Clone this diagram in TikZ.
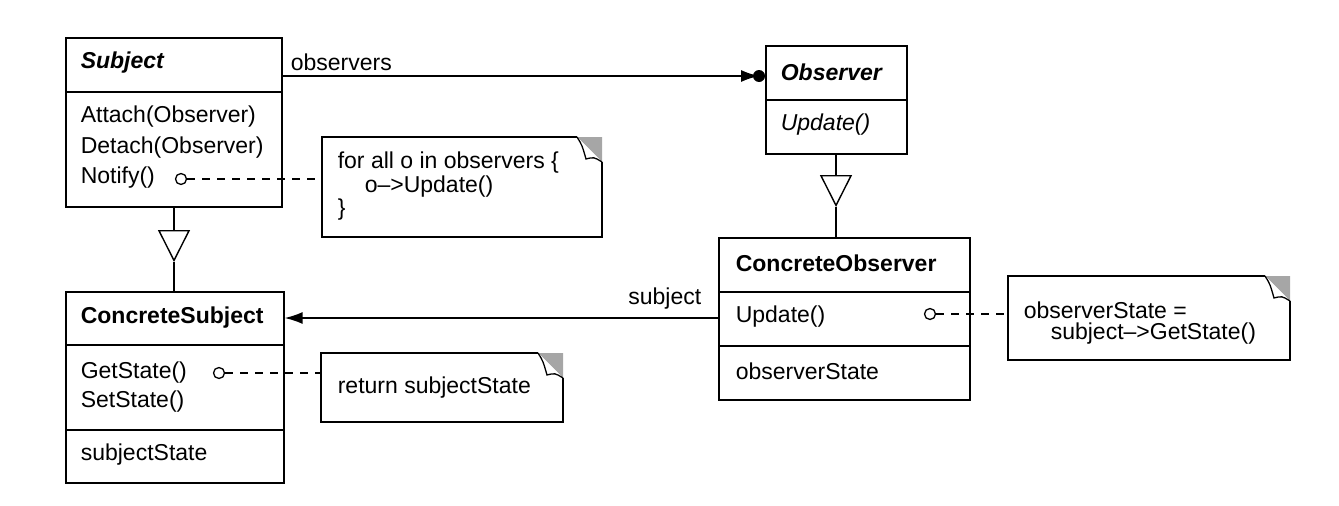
\documentclass[tikz,border=0pt]{standalone}
\usepackage{fontspec}
\setmainfont{Liberation Sans}
\usetikzlibrary{arrows.meta}
\begin{document}
\begin{tikzpicture}[x=1pt,y=-1pt,line width=1.6pt,
  txt/.style={anchor=west,inner sep=0pt,font=\fontsize{23}{27}\selectfont},
  ttl/.style={txt,font=\fontsize{23}{27}\selectfont\bfseries},
  box/.style={draw,anchor=north west,inner sep=0pt,minimum width=#1},
  dsh/.style={dashed,dash pattern=on 8pt off 7pt,line width=1.4pt},
  gen/.style={-{Triangle[open,length=32pt,width=32pt,line width=1.4pt]}},
  note/.style={draw,inner sep=0pt,anchor=north west}]
\useasboundingbox (0,0) rectangle (1339,506);
% Subject
\node[box=216,minimum height=54] (sh) at (65,37) {};
\node[box=216,minimum height=115] (sb) at (65,91) {};
\node[ttl,font=\fontsize{23}{27}\selectfont\bfseries\itshape] (st) at (80,63) {Subject};
\node[txt] (s1) at (80,117) {Attach(Observer)};
\node[txt] (s2) at (80,148) {Detach(Observer)};
\node[txt] (s3) at (80,178) {Notify()};
\node[draw,circle,minimum size=11pt,inner sep=0pt,line width=1.3pt] (c1) at (181,179) {};
% Observer
\node[box=141,minimum height=54] (oh) at (765,45) {};
\node[box=141,minimum height=54] (ob) at (765,99) {};
\node[ttl,font=\fontsize{23}{27}\selectfont\bfseries\itshape] (ot) at (780,72) {Observer};
\node[txt,font=\fontsize{23}{27}\selectfont\itshape] (o1) at (780,125) {Update()};
% ConcreteSubject
\node[box=218,minimum height=53] (csh) at (65,291) {};
\node[box=218,minimum height=85] (csb) at (65,344) {};
\node[box=218,minimum height=53] (csa) at (65,429) {};
\node[ttl] (cst) at (80,318) {ConcreteSubject};
\node[txt] (cs1) at (80,373) {GetState()};
\node[txt] (cs2) at (80,402) {SetState()};
\node[txt] (cs3) at (80,455) {subjectState};
\node[draw,circle,minimum size=11pt,inner sep=0pt,line width=1.3pt] (c2) at (219,373) {};
% ConcreteObserver
\node[box=251,minimum height=54] (coh) at (718,237) {};
\node[box=251,minimum height=54] (cob) at (718,291) {};
\node[box=251,minimum height=54] (coa) at (718,345) {};
\node[ttl] (cot) at (735,263) {ConcreteObserver};
\node[txt] (co1) at (735,317) {Update()};
\node[txt] (co2) at (735,371) {observerState};
\node[draw,circle,minimum size=11pt,inner sep=0pt,line width=1.3pt] (c3) at (930,314) {};
% notes
\newcommand{\notefold}[4]{%
  \fill[white] (#1,#2) rectangle (#3,#4);
  \fill[gray!70] (#3-25,#2) -- (#3,#2) -- (#3,#2+25) -- cycle;
  \filldraw[fill=white,line width=1.3pt] (#3-25,#2) .. controls (#3-20,#2+8) .. (#3-16,#2+22) .. controls (#3-8,#2+20) .. (#3,#2+25);
  \draw (#3-25,#2) -- (#1,#2) -- (#1,#4) -- (#3,#4) -- (#3,#2+25);}
\notefold{322}{137}{602}{237}
\node[note,minimum width=280,minimum height=100,draw=none] (n1) at (322,137) {};
\node[txt] (n1a) at (337,163) {for all o in observers \{};
\node[txt] (n1b) at (364,187) {o–>Update()};
\node[txt] (n1c) at (337,210) {\}};
\notefold{321}{353}{563}{422}
\node[note,minimum width=242,minimum height=69,draw=none] (n2) at (321,353) {};
\node[txt] (n2a) at (337,388) {return subjectState};
\notefold{1008}{276}{1290}{360}
\node[note,minimum width=282,minimum height=84,draw=none] (n3) at (1008,276) {};
\node[txt] (n3a) at (1023,310) {observerState =};
\node[txt] (n3b) at (1050,334) {subject–>GetState()};
% connectors
\coordinate (a1) at (sh.east |- 0,76);
\coordinate (a2) at (oh.west |- 0,76);
\draw[-{Latex[length=18pt,width=12pt]}] (a1) -- ([xshift=-6pt]a2);
\fill ([xshift=-6pt]a2) circle (6pt);
\node[txt,anchor=south west] (lobs) at (290,72) {observers};
\coordinate (b1) at (cob.west |- 0,318);
\coordinate (b2) at (csh.east |- 0,318);
\draw[-{Latex[length=18pt,width=12pt]}] (b1) -- (b2);
\node[txt,anchor=south east] (lsub) at (702,310) {subject};
\draw[gen] (sb.south -| 174,0) -- (174,262);
\draw (174,262) -- (csh.north -| 174,0);
\draw[gen] (ob.south -| 836,0) -- (836,207);
\draw (836,207) -- (coh.north -| 836,0);
\draw[dsh] (c1.east) -- (n1.west |- c1);
\draw[dsh] (c2.east) -- (n2.west |- c2);
\draw[dsh] (c3.east) -- (n3.west |- c3);
\end{tikzpicture}
\end{document}
